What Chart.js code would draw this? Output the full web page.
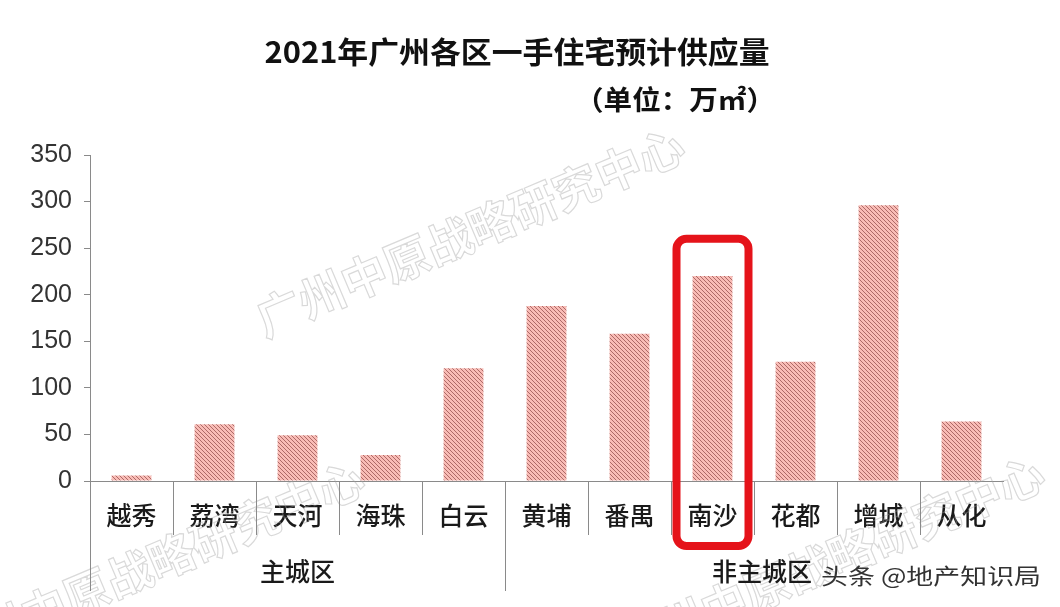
<!DOCTYPE html>
<html>
<head>
<meta charset="utf-8">
<script src="https://cdn.jsdelivr.net/npm/chart.js@4/dist/chart.umd.min.js"></script>
<style>
html,body{margin:0;padding:0;background:#fff;}
#wrap{width:1060px;height:607px;position:relative;}
</style>
</head>
<body>
<div id="wrap"><canvas id="c" width="1060" height="607"></canvas></div>
<script>
const categories = ['越秀','荔湾','天河','海珠','白云','黄埔','番禺','南沙','花都','增城','从化'];
const supply = [6, 61, 49, 28, 121, 188, 158, 220, 128, 296, 64];
const groups = ['主城区','非主城区'];
const groupSizes = [5, 6];
const highlightIndex = 7;
const yTicks = [0, 50, 100, 150, 200, 250, 300, 350];
const titleText = '2021年广州各区一手住宅预计供应量';
const subtitleText = '（单位：万㎡）';
const watermarkText = '广州中原战略研究中心';
const creditText = '头条 @地产知识局';

const CJK = '"Noto Sans CJK SC", "Noto Sans", sans-serif';

function makePattern() {
  const s = 4;
  const c = document.createElement('canvas');
  c.width = s; c.height = s;
  const g = c.getContext('2d');
  g.fillStyle = '#f9bcb6';
  g.fillRect(0, 0, s, s);
  g.strokeStyle = 'rgba(120,50,50,0.75)';
  g.lineWidth = 0.8;
  for (const o of [-s, 0, s]) {
    g.beginPath();
    g.moveTo(o, 0);
    g.lineTo(o + s, s);
    g.stroke();
  }
  return document.getElementById('c').getContext('2d').createPattern(c, 'repeat');
}

function fitText(ctx, text, x, y, targetW, align) {
  const w = ctx.measureText(text).width;
  const sx = targetW / w;
  ctx.save();
  ctx.translate(x, y);
  ctx.scale(sx, 1);
  ctx.textAlign = align;
  ctx.fillText(text, 0, 0);
  ctx.restore();
}

const decor = {
  id: 'decor',
  beforeDatasetsDraw(chart) {
    const ctx = chart.ctx;
    ctx.save();
    ctx.strokeStyle = 'rgba(160,160,160,0.4)';
    ctx.lineWidth = 1.2;
    ctx.font = 'bold 46px ' + CJK;
    ctx.textBaseline = 'middle';
    const marks = [
      {x: 470, y: 232, a: -0.40, t: watermarkText},
      {x: 830, y: 560, a: -0.40, t: watermarkText},
      {x: 150, y: 565, a: -0.40, t: watermarkText}
    ];
    for (const m of marks) {
      ctx.save();
      ctx.translate(m.x, m.y);
      ctx.rotate(m.a);
      ctx.textAlign = 'center';
      ctx.strokeText(m.t, 0, 0);
      ctx.restore();
    }
    ctx.restore();
  },
  afterDraw(chart) {
    const ctx = chart.ctx;
    const xs = chart.scales.x;
    const ys = chart.scales.y;
    const area = chart.chartArea;
    const n = categories.length;
    const step = (area.right - area.left) / n;
    const edge = i => area.left + step * i;

    ctx.save();
    ctx.strokeStyle = '#8a8a8a';
    ctx.lineWidth = 1;
    for (let i = 0; i < n; i++) {
      const x = Math.round(edge(i)) + 0.5;
      ctx.beginPath();
      ctx.moveTo(x, area.bottom);
      ctx.lineTo(x, area.bottom + 54);
      ctx.stroke();
    }
    let acc = 0;
    for (let g = 0; g < groupSizes.length; g++) {
      const x = Math.round(edge(acc)) + 0.5;
      ctx.beginPath();
      ctx.moveTo(x, area.bottom);
      ctx.lineTo(x, area.bottom + 110);
      ctx.stroke();
      acc += groupSizes[g];
    }
    ctx.restore();

    ctx.save();
    ctx.fillStyle = '#1a1a1a';
    ctx.font = '500 25px ' + CJK;
    ctx.textBaseline = 'middle';
    ctx.textAlign = 'center';
    acc = 0;
    for (let g = 0; g < groups.length; g++) {
      const cx = (edge(acc) + edge(acc + groupSizes[g])) / 2 + (g === 1 ? 8 : 0);
      ctx.fillText(groups[g], cx, area.bottom + 90);
      acc += groupSizes[g];
    }
    ctx.restore();

    const cx = xs.getPixelForValue(highlightIndex);
    const top = ys.getPixelForValue(260);
    const bottom = area.bottom + 65;
    ctx.save();
    ctx.strokeStyle = '#e5131a';
    ctx.lineWidth = 8;
    ctx.lineJoin = 'round';
    ctx.beginPath();
    ctx.roundRect(cx - 36, top, 72, bottom - top, 10);
    ctx.stroke();
    ctx.restore();

    ctx.save();
    ctx.fillStyle = '#111';
    ctx.textBaseline = 'middle';
    ctx.font = 'bold 30px ' + CJK;
    fitText(ctx, titleText, 517, 52, 505, 'center');
    ctx.font = 'bold 27px ' + CJK;
    fitText(ctx, subtitleText, 675, 100, 200, 'center');
    ctx.restore();

    ctx.save();
    ctx.fillStyle = '#333';
    ctx.font = '22px ' + CJK;
    ctx.textBaseline = 'middle';
    fitText(ctx, creditText, 821, 576, 220, 'left');
    ctx.restore();
  }
};

new Chart(document.getElementById('c'), {
  type: 'bar',
  data: {
    labels: categories,
    datasets: [{
      data: supply,
      backgroundColor: makePattern(),
      borderWidth: 0,
      categoryPercentage: 1,
      barPercentage: 0.48
    }]
  },
  options: {
    responsive: false,
    animation: false,
    events: [],
    layout: { padding: { top: 155, left: 0, right: 57, bottom: 0 } },
    plugins: { legend: { display: false }, tooltip: { enabled: false }, title: { display: false } },
    scales: {
      x: {
        grid: { display: false, drawTicks: false },
        border: { display: true, color: '#8a8a8a', width: 1 },
        ticks: {
          color: '#1a1a1a',
          font: { family: CJK, size: 25, weight: '500' },
          padding: 19,
          maxRotation: 0,
          autoSkip: false
        },
        afterFit(s) { s.height = 126; }
      },
      y: {
        min: 0,
        max: 350,
        afterBuildTicks(s) { s.ticks = yTicks.map(v => ({ value: v })); },
        grid: { drawOnChartArea: false, tickLength: 6, color: '#8a8a8a' },
        border: { display: true, color: '#8a8a8a', width: 1 },
        ticks: {
          color: '#333',
          font: { family: '"Liberation Sans", Arial, sans-serif', size: 25 },
          padding: 12
        },
        afterFit(s) { s.width = 90; }
      }
    }
  },
  plugins: [decor]
});
</script>
</body>
</html>
